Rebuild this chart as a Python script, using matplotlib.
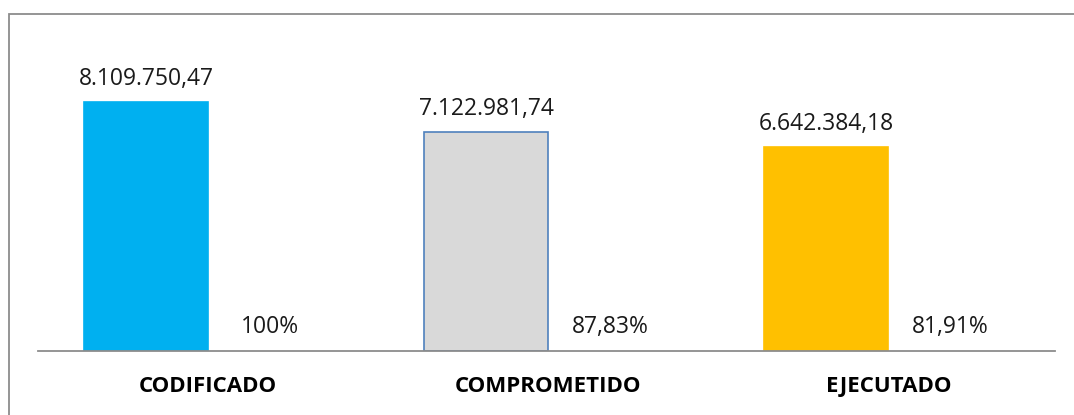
import matplotlib.pyplot as plt
import numpy as np
from matplotlib.patches import Rectangle

categorias = ['CODIFICADO', 'COMPROMETIDO', 'EJECUTADO']
montos = [8109750.47, 7122981.74, 6642384.18]
porcentajes = [100.0, 87.83, 81.91]
etiquetas_monto = ['8.109.750,47', '7.122.981,74', '6.642.384,18']
etiquetas_pct = ['100%', '87,83%', '81,91%']

colores = ['#00B0F0', '#D9D9D9', '#FFC000']
bordes = ['#00B0F0', '#4F81BD', '#FFC000']

plt.rcParams['font.family'] = ['Open Sans', 'DejaVu Sans']

fig = plt.figure(figsize=(10.74, 4.15), dpi=100)
ax = fig.add_axes([38 / 1074, 64 / 415, 1017 / 1074, 337 / 415])

# marco gris del grafico (se sale por la derecha y abajo)
fig.patches.append(Rectangle((9 / 1074, -0.1), 1.2, 401 / 415 + 0.1,
                             transform=fig.transFigure, fill=False,
                             edgecolor='#8C8C8C', linewidth=1.3))

x = np.arange(len(categorias))
ancho = 0.365

barras = ax.bar(x - ancho / 2, montos, ancho, color=colores,
                edgecolor=bordes, linewidth=1.2)
# la serie de porcentajes es casi invisible frente a los montos
ax.bar(x + ancho / 2, [p / 100 for p in porcentajes], ancho, color='none')

for i, b in enumerate(barras):
    ax.annotate(etiquetas_monto[i], (b.get_x() + b.get_width() / 2, b.get_height()),
                xytext=(0, 8), textcoords='offset points',
                ha='center', va='bottom', fontsize=16.5, color='#1a1a1a')
    ax.annotate(etiquetas_pct[i], (x[i] + ancho / 2, 0),
                xytext=(0, 9), textcoords='offset points',
                ha='center', va='bottom', fontsize=16.5, color='#1a1a1a')

ax.set_xlim(-0.5, 2.49)
ax.set_ylim(0, montos[0] * 337 / 249)
ax.set_xticks(x)
ax.set_xticklabels(categorias, fontsize=16, fontweight='bold')
ax.tick_params(axis='x', length=0, pad=18)
ax.set_yticks([])
for s in ['top', 'right', 'left']:
    ax.spines[s].set_visible(False)
ax.spines['bottom'].set_color('#8C8C8C')
ax.spines['bottom'].set_linewidth(1.3)

fig.savefig('out.png', dpi=100)
